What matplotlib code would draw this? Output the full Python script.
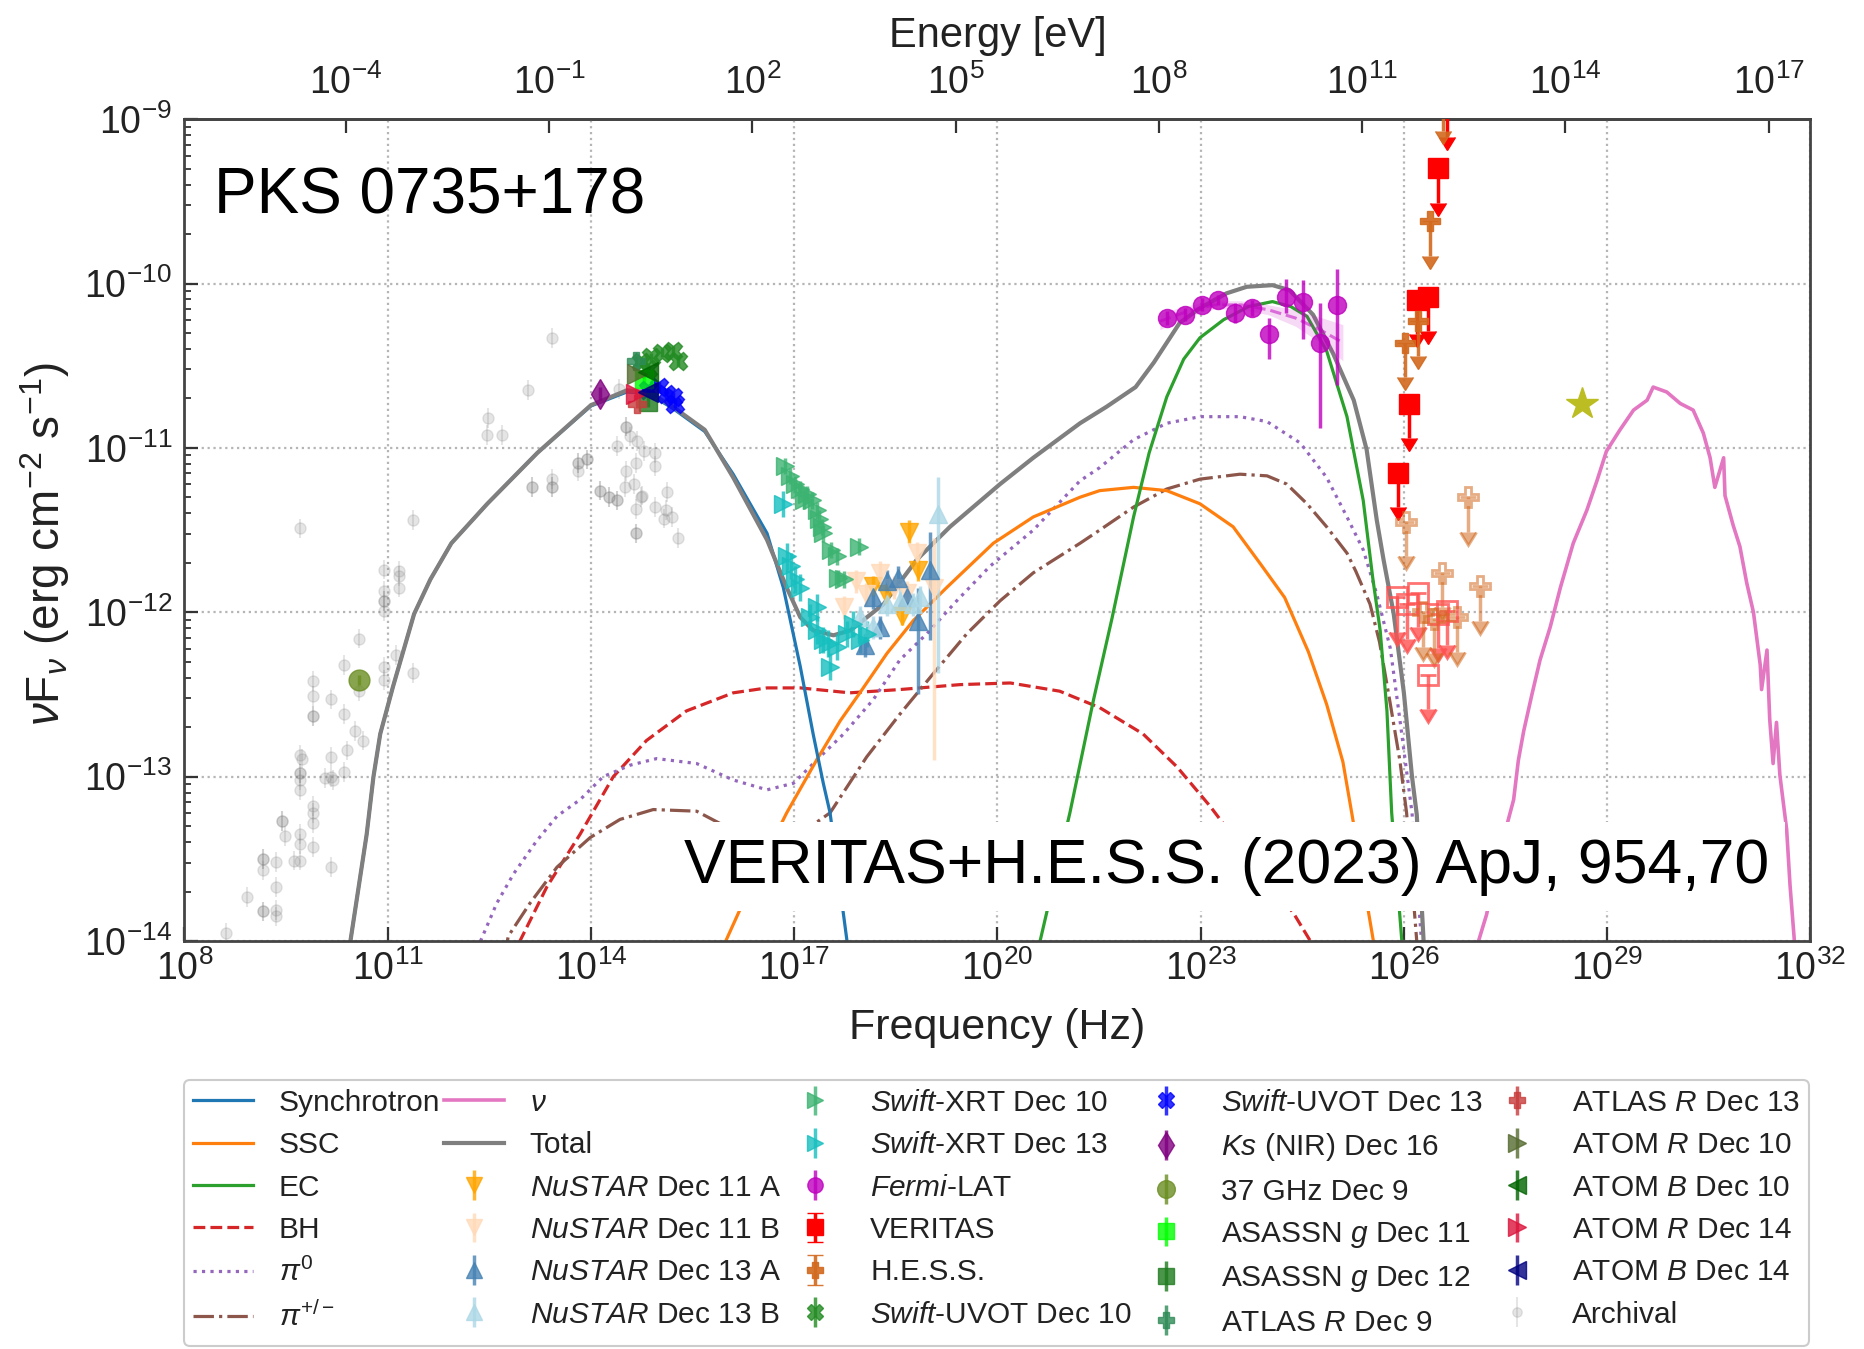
import numpy as np
import matplotlib
matplotlib.use("Agg")
import matplotlib.pyplot as plt
from matplotlib.ticker import FixedLocator, NullLocator, LogLocator, LogFormatterMathtext, NullFormatter

plt.rcParams['font.family'] = ['Liberation Sans', 'DejaVu Sans']
plt.rcParams['mathtext.fontset'] = 'custom'
plt.rcParams['mathtext.rm'] = 'Liberation Sans'
plt.rcParams['mathtext.it'] = 'Liberation Sans:italic'
plt.rcParams['mathtext.bf'] = 'Liberation Sans:bold'
plt.rcParams['mathtext.sf'] = 'Liberation Sans'

# ---------------- model curves (log10 nu [Hz], log10 nuFnu [erg cm-2 s-1]) ----------------
sync_lognu = [10.41, 10.45, 10.69, 10.79, 10.89, 11.08, 11.39, 11.63, 11.94, 12.47, 13.21, 14.00, 14.53,
              14.85, 15.21, 15.68, 16.10, 16.60, 16.84, 17.09, 17.28, 17.43, 17.53, 17.78, 17.80]
sync_logF = [-14.1, -14.0, -13.35, -13.0, -12.74, -12.45, -12.01, -11.80, -11.58, -11.34, -11.03, -10.745, -10.66,
             -10.67, -10.76, -10.90, -11.16, -11.52, -11.85, -12.33, -12.74, -13.04, -13.22, -14.0, -14.1]

ssc_lognu = [15.95, 15.99, 16.44, 16.89, 17.33, 17.68, 17.97, 18.37, 18.76, 19.25, 19.94, 20.53, 21.22,
             21.51, 22.01, 22.50, 22.99, 23.48, 23.89, 24.24, 24.59, 24.86, 25.10, 25.23, 25.55, 25.58]
ssc_logF = [-14.1, -14.0, -13.59, -13.22, -12.90, -12.66, -12.49, -12.25, -12.05, -11.85, -11.58, -11.42, -11.30,
            -11.26, -11.24, -11.26, -11.34, -11.48, -11.71, -11.91, -12.24, -12.56, -12.91, -13.22, -14.0, -14.1]

ec_lognu = [20.60, 20.63, 21.07, 21.42, 21.69, 22.01, 22.24, 22.50, 22.75, 22.99, 23.34, 23.71, 24.06,
            24.33, 24.57, 24.86, 25.16, 25.40, 25.54, 25.65, 25.75, 25.82, 25.97, 25.99]
ec_logF = [-14.1, -14.0, -13.22, -12.53, -12.04, -11.42, -11.03, -10.69, -10.46, -10.33, -10.22, -10.14, -10.11,
           -10.14, -10.20, -10.41, -10.81, -11.32, -11.79, -12.11, -12.60, -13.22, -14.0, -14.1]

bh_lognu = [12.83, 13.00, 13.35, 13.84, 14.33, 14.82, 15.41, 16.10, 16.60, 17.09, 17.82, 18.56, 19.45,
            20.19, 20.92, 21.51, 22.15, 22.65, 23.14, 23.71, 24.37, 24.62, 24.67]
bh_logF = [-14.1, -13.96, -13.67, -13.35, -13.0, -12.78, -12.60, -12.49, -12.46, -12.46, -12.49, -12.47, -12.44,
           -12.43, -12.48, -12.58, -12.74, -12.94, -13.18, -13.49, -13.83, -14.0, -14.05]

pi0_lognu = [12.30, 12.36, 12.61, 12.86, 13.20, 13.50, 13.84, 14.18, 14.58, 14.97, 15.56, 16.10, 16.60,
             16.99, 17.33, 17.73, 18.17, 18.56, 18.96, 19.40, 19.89, 20.53, 21.22, 21.51, 22.01, 22.50,
             22.99, 23.58, 23.98, 24.47, 24.86, 25.16, 25.40, 25.60, 25.80, 25.94, 26.12, 26.26, 26.28]
pi0_logF = [-14.1, -14.01, -13.77, -13.59, -13.39, -13.24, -13.14, -13.0, -12.93, -12.89, -12.92, -13.02, -13.08,
            -13.04, -12.90, -12.74, -12.53, -12.29, -12.13, -11.93, -11.72, -11.50, -11.20, -11.12, -10.95, -10.85,
            -10.81, -10.81, -10.84, -10.97, -11.18, -11.42, -11.62, -11.89, -12.22, -12.65, -13.22, -14.0, -14.1]

pipm_lognu = [12.72, 12.78, 13.10, 13.50, 13.99, 14.43, 14.92, 15.56, 16.16, 16.87, 17.53, 18.07, 18.56,
              19.06, 19.55, 20.04, 20.53, 21.22, 21.51, 22.01, 22.50, 22.99, 23.58, 23.98, 24.27, 24.57,
              24.86, 25.16, 25.29, 25.50, 25.64, 25.78, 25.94, 26.04, 26.19, 26.21]
pipm_logF = [-14.1, -13.97, -13.77, -13.55, -13.37, -13.26, -13.20, -13.21, -13.34, -13.41, -13.22, -12.88, -12.62,
             -12.37, -12.13, -11.93, -11.76, -11.58, -11.50, -11.36, -11.25, -11.19, -11.16, -11.17, -11.22, -11.34,
             -11.48, -11.64, -11.75, -11.95, -12.18, -12.51, -12.90, -13.22, -14.0, -14.1]

neut_lognu = [27.05, 27.22, 27.42, 27.62, 27.69, 27.77, 27.89, 28.01, 28.16, 28.31, 28.50, 28.70, 28.85,
              28.99, 29.19, 29.39, 29.59, 29.68, 29.88, 30.08, 30.27, 30.42, 30.52, 30.59, 30.72, 30.74,
              30.86, 30.96, 31.06, 31.16, 31.26, 31.28, 31.36, 31.40, 31.45, 31.50, 31.55, 31.65, 31.70, 31.77]
neut_logF = [-14.07, -13.84, -13.45, -13.14, -12.90, -12.72, -12.50, -12.29, -12.09, -11.85, -11.58, -11.38, -11.20,
             -11.02, -10.89, -10.77, -10.71, -10.63, -10.66, -10.73, -10.77, -10.91, -11.06, -11.24, -11.06, -11.29,
             -11.47, -11.60, -11.82, -12.00, -12.32, -12.47, -12.23, -12.65, -12.92, -12.67, -12.99, -13.32, -13.66, -14.03]

total_lognu = [10.41, 10.45, 10.69, 10.79, 10.89, 11.08, 11.39, 11.63, 11.94, 12.47, 13.21, 14.00, 14.53,
               14.85, 15.21, 15.68, 16.10, 16.60, 16.89, 17.09, 17.28, 17.58, 17.83, 18.32, 18.81, 19.30,
               20.04, 20.53, 21.22, 21.61, 22.04, 22.31, 22.69, 22.99, 23.38, 23.68, 24.06, 24.31, 24.66,
               24.96, 25.26, 25.45, 25.60, 25.70, 25.85, 26.00, 26.12, 26.19, 26.29, 26.31]
total_logF = [-14.1, -14.0, -13.35, -13.0, -12.74, -12.45, -12.01, -11.80, -11.58, -11.34, -11.03, -10.74, -10.65,
              -10.66, -10.75, -10.89, -11.18, -11.56, -11.85, -12.03, -12.11, -12.14, -12.11, -11.95, -11.68, -11.48,
              -11.22, -11.06, -10.85, -10.75, -10.63, -10.48, -10.24, -10.15, -10.06, -10.02, -10.01, -10.04, -10.19,
              -10.43, -10.71, -11.01, -11.44, -11.68, -12.01, -12.49, -13.0, -13.23, -13.99, -14.1]

# ---------------- data (log10 nu, log10 nuFnu, errors in dex) ----------------
nu11a_lognu = [18.17, 18.36, 18.59, 18.70, 18.83]
nu11a_logF = [-11.84, -11.89, -12.02, -11.51, -11.74]
nu11a_up = [0.06, 0.06, 0.06, 0.07, 0.07]
nu11a_dn = [0.06, 0.06, 0.06, 0.07, 0.07]

nu11b_lognu = [17.73, 17.92, 18.06, 18.27, 18.47, 18.66, 18.81, 19.06]
nu11b_logF = [-11.97, -11.81, -11.89, -11.76, -11.85, -11.88, -11.64, -11.85]
nu11b_up = [0.07, 0.07, 0.07, 0.07, 0.07, 0.07, 0.07, 0.30]
nu11b_dn = [0.07, 0.07, 0.07, 0.07, 0.07, 0.07, 0.07, 1.05]

nu13a_lognu = [18.05, 18.17, 18.27, 18.37, 18.54, 18.66, 18.83, 19.01]
nu13a_logF = [-12.20, -11.91, -12.09, -11.81, -11.79, -11.91, -12.05, -11.74]
nu13a_up = [0.07, 0.07, 0.07, 0.07, 0.07, 0.07, 0.20, 0.23]
nu13a_dn = [0.07, 0.07, 0.07, 0.07, 0.07, 0.07, 0.45, 0.43]

nu13b_lognu = [17.97, 18.17, 18.37, 18.56, 18.76, 18.86, 19.13]
nu13b_logF = [-12.03, -12.09, -11.95, -11.93, -11.95, -11.91, -11.40]
nu13b_up = [0.07, 0.07, 0.07, 0.07, 0.07, 0.07, 0.22]
nu13b_dn = [0.07, 0.07, 0.07, 0.07, 0.07, 0.07, 0.97]

xrt10_lognu = [16.87, 16.94, 17.01, 17.09, 17.15, 17.19, 17.26, 17.33, 17.36, 17.41, 17.43, 17.55, 17.63, 17.65, 17.73, 17.95]
xrt10_logF = [-11.11, -11.17, -11.22, -11.25, -11.32, -11.28, -11.32, -11.38, -11.43, -11.48, -11.52, -11.62, -11.66, -11.79, -11.80, -11.60]
xrt10_err = 0.05

xrt13_lognu = [16.84, 16.89, 16.96, 17.01, 17.09, 17.23, 17.33, 17.33, 17.43, 17.50, 17.53, 17.63, 17.78, 17.87, 17.97, 18.07]
xrt13_logF = [-11.34, -11.66, -11.72, -11.80, -11.85, -12.03, -11.97, -12.11, -12.17, -12.19, -12.33, -12.21, -12.13, -12.07, -12.17, -12.13]
xrt13_err = 0.08

fermi_lognu = [22.50, 22.77, 23.02, 23.26, 23.51, 23.76, 24.01, 24.26, 24.51, 24.76, 25.01]
fermi_logF = [-10.21, -10.19, -10.13, -10.10, -10.18, -10.15, -10.31, -10.08, -10.11, -10.36, -10.13]
fermi_up = [0.04, 0.04, 0.04, 0.03, 0.06, 0.05, 0.10, 0.11, 0.13, 0.24, 0.22]
fermi_dn = [0.04, 0.04, 0.04, 0.03, 0.06, 0.05, 0.15, 0.10, 0.23, 0.52, 0.49]

fermi_bf_lognu = [22.4, 22.8, 23.2, 23.6, 24.0, 24.4, 24.8, 25.1]
fermi_bf_logF = [-10.23, -10.17, -10.13, -10.13, -10.16, -10.21, -10.29, -10.36]
fermi_bf_half = [0.05, 0.035, 0.025, 0.025, 0.03, 0.05, 0.08, 0.11]

vts_lognu = [25.92, 26.07, 26.20, 26.36, 26.51, 26.63]
vts_logF = [-11.15, -10.73, -10.10, -10.08, -9.30, -8.90]
vts2_lognu = [25.90, 26.04, 26.21, 26.36, 26.51, 26.63]
vts2_logF = [-11.91, -11.95, -11.88, -12.38, -12.01, -11.99]

hess_lognu = [26.02, 26.21, 26.39, 26.58]
hess_logF = [-10.36, -10.23, -9.62, -8.86]
hess2_lognu = [26.03, 26.94, 26.57, 27.12, 26.28, 26.78, 26.44]
hess2_logF = [-11.45, -11.30, -11.76, -11.84, -12.00, -12.03, -12.04]

uvot10_lognu = [14.74, 14.84, 14.89, 15.05, 15.21, 15.29]
uvot10_logF = [-10.48, -10.52, -10.45, -10.42, -10.41, -10.47]
uvot13_lognu = [14.84, 15.00, 15.11, 15.21, 15.24]
uvot13_logF = [-10.65, -10.63, -10.67, -10.69, -10.73]

ks_lognu, ks_logF = [14.14], [-10.67]
ghz_lognu, ghz_logF = [10.57], [-12.41]
asassn11_lognu, asassn11_logF = [14.79], [-10.58]
asassn12_lognu, asassn12_logF = [14.84], [-10.72]
atlas9_lognu, atlas9_logF = [14.66], [-10.47]
atlas13_lognu, atlas13_logF = [14.68], [-10.73]
atomr10_lognu, atomr10_logF = [14.68], [-10.55]
atomb10_lognu, atomb10_logF = [14.84], [-10.54]
atomr14_lognu, atomr14_logF = [14.66], [-10.67]
atomb14_lognu, atomb14_logF = [14.84], [-10.66]

star_lognu, star_logF = [28.63], [-10.73]

arch_lognu = [8.62, 8.92, 9.16, 9.16, 9.16, 9.16, 9.16, 9.35, 9.35, 9.35, 9.35, 9.44, 9.44, 9.49, 9.61,
              9.71, 9.71, 9.71, 9.71, 9.71, 9.71, 9.71, 9.73, 9.71, 9.90, 9.90, 9.90, 9.90, 9.90, 9.90,
              9.90, 9.90, 10.08, 10.17, 10.17, 10.17, 10.17, 10.20, 10.35, 10.35, 10.40, 10.35, 10.52,
              10.57, 10.64, 10.57, 10.94, 10.94, 10.94, 10.94, 10.94, 10.94, 10.94, 11.16, 11.16, 11.16,
              11.13, 11.38, 11.38, 9.71,
              13.42, 13.07, 12.48, 12.47, 12.69, 13.13, 13.13, 13.42, 13.42, 13.42, 13.81, 13.81, 13.94,
              13.94, 13.81, 14.14, 14.14, 14.26, 14.26, 14.39, 14.39, 14.52, 14.52, 14.58, 14.68, 14.79,
              14.95, 14.66, 14.95, 14.52, 14.63, 14.76, 14.66, 14.95, 15.13, 15.11, 15.08, 15.20, 14.66,
              14.66, 15.29, 14.39, 14.50, 14.74, 14.42]
arch_logF = [-13.95, -13.73, -13.50, -13.50, -13.57, -13.82, -13.82, -13.52, -13.67, -13.81, -13.85, -13.27,
             -13.27, -13.36, -13.51, -13.51, -13.35, -13.41, -12.98, -12.98, -13.02, -13.08, -12.89, -12.87,
             -12.42, -12.51, -12.63, -12.63, -13.18, -13.22, -13.28, -13.43, -13.01, -13.00, -12.88, -12.53,
             -13.55, -13.02, -12.62, -12.97, -12.84, -12.32, -12.72, -12.16, -12.78, -12.48, -11.87, -11.93,
             -11.93, -11.99, -11.74, -12.41, -12.33, -11.78, -11.85, -11.75, -12.26, -12.37, -11.44, -11.49,
             -10.33, -10.65, -10.82, -10.92, -10.92, -11.24, -11.24, -11.24, -11.24, -11.19, -11.09, -11.09,
             -11.07, -11.07, -11.14, -11.26, -11.26, -11.30, -11.30, -11.32, -11.32, -10.87, -10.87, -10.93,
             -10.96, -11.02, -11.03, -11.09, -11.11, -11.14, -11.22, -11.29, -11.37, -11.36, -11.27, -11.38,
             -11.43, -11.42, -11.52, -11.52, -11.55, -10.99, -11.24, -11.30, -10.64]
arch_err = 0.06
ul_arrow_dex = 0.21
h_planck_eV = 4.135667696e-15

# ---------------- figure ----------------
fig = plt.figure(figsize=(18.65, 13.49), dpi=100)
ax = fig.add_axes([0.0989, 0.3024, 0.8718, 0.6093])
ax.set_xscale('log')
ax.set_yscale('log')


def lin(v):
    return 10.0 ** np.asarray(v, dtype=float)


def dex_err(logF, up, dn):
    F = lin(logF)
    up = np.broadcast_to(np.asarray(up, dtype=float), F.shape)
    dn = np.broadcast_to(np.asarray(dn, dtype=float), F.shape)
    return [F - F * 10.0 ** (-dn), F * 10.0 ** up - F]


# model curves
h_sync, = ax.plot(lin(sync_lognu), lin(sync_logF), color='#1f77b4', lw=2.3, zorder=2.2)
h_ssc, = ax.plot(lin(ssc_lognu), lin(ssc_logF), color='#ff7f0e', lw=2.3, zorder=2.1)
h_ec, = ax.plot(lin(ec_lognu), lin(ec_logF), color='#2ca02c', lw=2.3, zorder=2.1)
h_bh, = ax.plot(lin(bh_lognu), lin(bh_logF), color='#d62728', lw=2.3, ls='--', zorder=2.0)
h_pi0, = ax.plot(lin(pi0_lognu), lin(pi0_logF), color='#9467bd', lw=2.3, ls=':', zorder=2.0)
h_pipm, = ax.plot(lin(pipm_lognu), lin(pipm_logF), color='#8c564b', lw=2.3, ls='-.', zorder=2.0)
h_nu, = ax.plot(lin(neut_lognu), lin(neut_logF), color='#e377c2', lw=2.6, zorder=2.0)
h_tot, = ax.plot(lin(total_lognu), lin(total_logF), color='#7f7f7f', lw=3.0, zorder=2.5)

# archival
h_arch = ax.errorbar(lin(arch_lognu), lin(arch_logF), yerr=dex_err(arch_logF, arch_err, arch_err),
                     fmt='o', color='gray', ms=8, alpha=0.2, elinewidth=1.5, zorder=3)

# Fermi butterfly
ax.fill_between(lin(fermi_bf_lognu), lin(np.array(fermi_bf_logF) - np.array(fermi_bf_half)),
                lin(np.array(fermi_bf_logF) + np.array(fermi_bf_half)), color='m', alpha=0.15, lw=0, zorder=3)
ax.plot(lin(fermi_bf_lognu), lin(fermi_bf_logF), color='m', ls='--', lw=2.2, alpha=0.5, zorder=3)

A = 0.8
ekw = dict(elinewidth=2.5, capsize=0, zorder=4)


def eb(lx, ly, up, dn, fmt, color, ms, alpha=A, **kw):
    return ax.errorbar(lin(lx), lin(ly), yerr=dex_err(ly, up, dn), fmt=fmt, color=color, ms=ms,
                       alpha=alpha, **{**ekw, **kw})


h_n11a = eb(nu11a_lognu, nu11a_logF, nu11a_up, nu11a_dn, 'v', '#ffa500', 13)
h_n11b = eb(nu11b_lognu, nu11b_logF, nu11b_up, nu11b_dn, 'v', '#ffdab9', 13)
h_n13a = eb(nu13a_lognu, nu13a_logF, nu13a_up, nu13a_dn, '^', '#4682b4', 13)
h_n13b = eb(nu13b_lognu, nu13b_logF, nu13b_up, nu13b_dn, '^', '#add8e6', 13)
h_x10 = eb(xrt10_lognu, xrt10_logF, xrt10_err, xrt10_err, '>', '#3cb371', 13)
h_x13 = eb(xrt13_lognu, xrt13_logF, xrt13_err, xrt13_err, '>', '#17bfbf', 13)
h_fermi = eb(fermi_lognu, fermi_logF, fermi_up, fermi_dn, 'o', '#bf00bf', 13)

# upper limits
vts_F = lin(vts_logF)
h_vts = ax.errorbar(lin(vts_lognu), vts_F, yerr=vts_F * (1 - 10 ** -ul_arrow_dex), uplims=True,
                    fmt='s', color='red', ms=14, capsize=6, elinewidth=2.5, zorder=4)
vts2_F = lin(vts2_logF)
ax.errorbar(lin(vts2_lognu), vts2_F, yerr=vts2_F * (1 - 10 ** -ul_arrow_dex), uplims=True,
            fmt='s', color='#ff5050', mfc='none', mew=2, ms=14, capsize=6, elinewidth=2.5, alpha=0.8, zorder=4)
hess_F = lin(hess_logF)
h_hess = ax.errorbar(lin(hess_lognu), hess_F, yerr=hess_F * (1 - 10 ** -ul_arrow_dex), uplims=True,
                     fmt='P', color='#d2691e', ms=14, capsize=6, elinewidth=2.5, alpha=0.9, zorder=4)
hess2_F = lin(hess2_logF)
ax.errorbar(lin(hess2_lognu), hess2_F, yerr=hess2_F * (1 - 10 ** -ul_arrow_dex), uplims=True,
            fmt='P', color='#d2691e', mfc='none', mew=2, ms=14, capsize=6, elinewidth=2.5, alpha=0.55, zorder=4)

h_u10 = eb(uvot10_lognu, uvot10_logF, 0.03, 0.03, 'X', '#228b22', 13)
h_u13 = eb(uvot13_lognu, uvot13_logF, 0.03, 0.03, 'X', '#0000ff', 13)
h_ks = eb(ks_lognu, ks_logF, 0.04, 0.04, 'd', '#800080', 15)
h_ghz = eb(ghz_lognu, ghz_logF, 0.03, 0.03, 'o', '#6b8e23', 15)
h_as11 = eb(asassn11_lognu, asassn11_logF, 0.03, 0.03, 's', '#00ff00', 13)
h_as12 = eb(asassn12_lognu, asassn12_logF, 0.03, 0.03, 's', '#1e7b1e', 13)
h_at9 = eb(atlas9_lognu, atlas9_logF, 0.03, 0.03, 'P', '#2e8b57', 13)
h_at13 = eb(atlas13_lognu, atlas13_logF, 0.03, 0.03, 'P', '#c83c3c', 13)
h_ar10 = eb(atomr10_lognu, atomr10_logF, 0.03, 0.03, '>', '#556b2f', 15)
h_ab10 = eb(atomb10_lognu, atomb10_logF, 0.03, 0.03, '<', '#006400', 15)
h_ar14 = eb(atomr14_lognu, atomr14_logF, 0.03, 0.03, '>', '#dc143c', 15)
h_ab14 = eb(atomb14_lognu, atomb14_logF, 0.03, 0.03, '<', '#000080', 15)

ax.plot(lin(star_lognu), lin(star_logF), ls='none', marker='*', color='#bcbd22', ms=24, zorder=4)

# ---------------- axes styling ----------------
ax.set_xlim(1e8, 1e32)
ax.set_ylim(1e-14, 1e-9)
ax.xaxis.set_major_locator(FixedLocator([10.0 ** k for k in range(8, 33, 3)]))
ax.xaxis.set_minor_locator(NullLocator())
ax.xaxis.set_major_formatter(LogFormatterMathtext())
ax.yaxis.set_major_locator(LogLocator(base=10, numticks=20))
ax.yaxis.set_minor_locator(LogLocator(base=10, subs=np.arange(2, 10), numticks=20))
ax.yaxis.set_minor_formatter(NullFormatter())
ax.tick_params(which='both', direction='in', labelsize=27, colors='#333333', labelcolor='#222222')
ax.tick_params(which='major', length=10, width=1.6)
ax.tick_params(which='minor', length=5, width=1.3)
ax.tick_params(axis='x', pad=7)
ax.tick_params(axis='y', pad=9)
ax.grid(True, which='major', ls=':', color='#b5b5b5', lw=1.6)
for s in ax.spines.values():
    s.set_color('#444444')
    s.set_linewidth(2.0)

ax.set_xlabel('Frequency (Hz)', fontsize=31, color='#222222')
ax.xaxis.set_label_coords(0.5, -0.082)
ax.set_ylabel(r'$\nu$F$_\nu$ (erg cm$^{-2}$ s$^{-1}$)', fontsize=33, color='#222222')
ax.yaxis.set_label_coords(-0.069, 0.483)

secax = ax.secondary_xaxis('top', functions=(lambda x: x * h_planck_eV, lambda e: e / h_planck_eV))
secax.xaxis.set_major_locator(FixedLocator([10.0 ** k for k in range(-4, 18, 3)]))
secax.xaxis.set_minor_locator(NullLocator())
secax.xaxis.set_major_formatter(LogFormatterMathtext())
secax.tick_params(direction='in', length=10, width=1.6, labelsize=27, pad=12, colors='#333333', labelcolor='#222222')
secax.set_xlabel('Energy [eV]', fontsize=30, labelpad=13, color='#222222')
for s in secax.spines.values():
    s.set_color('#444444')
    s.set_linewidth(2.0)

ax.text(0.018, 0.906, 'PKS 0735+178', transform=ax.transAxes, fontsize=46, ha='left', va='center', zorder=10)
ax.text(0.975, 0.091, 'VERITAS+H.E.S.S. (2023) ApJ, 954,70', transform=ax.transAxes, fontsize=45,
        ha='right', va='center', zorder=10,
        bbox=dict(facecolor='white', edgecolor='none', pad=11))

handles = [h_sync, h_ssc, h_ec, h_bh, h_pi0, h_pipm,
           h_nu, h_tot, h_n11a, h_n11b, h_n13a, h_n13b,
           h_x10, h_x13, h_fermi, h_vts, h_hess, h_u10,
           h_u13, h_ks, h_ghz, h_as11, h_as12, h_at9,
           h_at13, h_ar10, h_ab10, h_ar14, h_ab14, h_arch]
labels = ['Synchrotron', 'SSC', 'EC', 'BH', r'$\pi^0$', r'$\pi^{+/-}$',
          r'$\nu$', 'Total', r'$\mathit{NuSTAR}$ Dec 11 A', r'$\mathit{NuSTAR}$ Dec 11 B',
          r'$\mathit{NuSTAR}$ Dec 13 A', r'$\mathit{NuSTAR}$ Dec 13 B',
          r'$\mathit{Swift}$-XRT Dec 10', r'$\mathit{Swift}$-XRT Dec 13', r'$\mathit{Fermi}$-LAT',
          'VERITAS', 'H.E.S.S.', r'$\mathit{Swift}$-UVOT Dec 10',
          r'$\mathit{Swift}$-UVOT Dec 13', r'$\mathit{Ks}$ (NIR) Dec 16', '37 GHz Dec 9',
          r'ASASSN $\mathit{g}$ Dec 11', r'ASASSN $\mathit{g}$ Dec 12', r'ATLAS $\mathit{R}$ Dec 9',
          r'ATLAS $\mathit{R}$ Dec 13', r'ATOM $\mathit{R}$ Dec 10', r'ATOM $\mathit{B}$ Dec 10',
          r'ATOM $\mathit{R}$ Dec 14', r'ATOM $\mathit{B}$ Dec 14', 'Archival']
leg = ax.legend(handles, labels, loc='upper left', bbox_to_anchor=(0.0, -0.169), ncol=5, fontsize=21.5,
                frameon=True, fancybox=True, framealpha=1, edgecolor='#cccccc', borderaxespad=0,
                borderpad=0.3, labelspacing=0.48, handlelength=2.0, handletextpad=0.85, columnspacing=0.15,
                markerscale=0.85)
leg.get_frame().set_linewidth(1.5)
for t in leg.get_texts():
    t.set_color('#222222')

fig.savefig('out.png', dpi=100)
